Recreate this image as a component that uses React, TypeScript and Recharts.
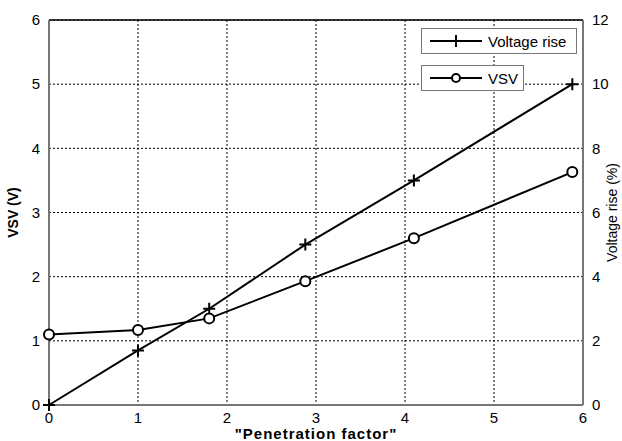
import { ComposedChart, Line, XAxis, YAxis, CartesianGrid, ReferenceLine, Label } from 'recharts';

const penetration = [0, 1, 1.8, 2.88, 4.1, 5.88];
const voltageRise = [0, 1.7, 3.0, 5.0, 7.0, 10.0];
const vsv = [1.1, 1.17, 1.35, 1.93, 2.6, 3.63];
const xTicks = [0, 1, 2, 3, 4, 5, 6];
const leftTicks = [0, 1, 2, 3, 4, 5, 6];
const rightTicks = [0, 2, 4, 6, 8, 10, 12];

const data = penetration.map((p, i) => ({ p, rise: voltageRise[i], vsv: vsv[i] }));

const font = '"Liberation Sans", Arial, sans-serif';

function PlusDot(props: any) {
    const { cx, cy } = props;
    if (cx == null || cy == null) return null;
    return <path d={`M${cx - 6},${cy}h12M${cx},${cy - 6}v12`} stroke="#000" strokeWidth={2} fill="none" />;
}

function CircleDot(props: any) {
    const { cx, cy } = props;
    if (cx == null || cy == null) return null;
    return <circle cx={cx} cy={cy} r={5} stroke="#000" strokeWidth={2} fill="#fff" />;
}

function LegendBoxes() {
    const box = { border: '1px solid #777', background: '#fff', display: 'flex', alignItems: 'center', height: 26, boxSizing: 'border-box' as const, fontFamily: font, fontSize: 15, color: '#000' };
    return (
        <div style={{ position: 'absolute', left: 421, top: 28 }}>
            <div style={{ ...box, width: 156 }}>
                <svg width={58} height={20} style={{ marginLeft: 8 }}>
                    <line x1={0} y1={10} x2={52} y2={10} stroke="#000" strokeWidth={2} />
                    <path d="M26,4v12M20,10h12" stroke="#000" strokeWidth={2} />
                </svg>
                <span>Voltage rise</span>
            </div>
            <div style={{ ...box, width: 103, marginTop: 11 }}>
                <svg width={58} height={20} style={{ marginLeft: 8 }}>
                    <line x1={0} y1={10} x2={52} y2={10} stroke="#000" strokeWidth={2} />
                    <circle cx={26} cy={10} r={4} stroke="#000" strokeWidth={2} fill="#fff" />
                </svg>
                <span>VSV</span>
            </div>
        </div>
    );
}

export default function App() {
    return (
        <div style={{ position: 'absolute', left: 0, top: 0, width: 622, height: 441, background: '#fff' }}>
            <ComposedChart width={622} height={441} data={data} margin={{ top: 20, right: 14, left: 19, bottom: 16 }}>
                <CartesianGrid yAxisId="left" stroke="#000" strokeDasharray="2 2" strokeWidth={1} />
                <XAxis dataKey="p" type="number" domain={[0, 6]} ticks={xTicks} height={20}
                    stroke="#777" strokeWidth={2} tickLine={false} tickMargin={1}
                    tick={{ fill: '#000', fontSize: 15, fontFamily: font }}>
                    <Label value={'"Penetration factor"'} position="bottom" offset={3}
                        style={{ fontWeight: 'bold', fontSize: 15, fontFamily: font, fill: '#000', letterSpacing: 1 }} />
                </XAxis>
                <YAxis yAxisId="left" domain={[0, 6]} ticks={leftTicks} width={30}
                    stroke="#777" strokeWidth={2} tickLine={false} tickMargin={3}
                    tick={{ fill: '#000', fontSize: 15, fontFamily: font }}>
                    <Label value="VSV (V)" angle={-90} position="left" offset={6}
                        style={{ fontWeight: 'bold', fontSize: 14, fontFamily: font, fill: '#000', textAnchor: 'middle' }} />
                </YAxis>
                <YAxis yAxisId="right" orientation="right" domain={[0, 12]} ticks={rightTicks} width={25}
                    stroke="#777" strokeWidth={2} tickLine={false} tickMargin={3}
                    tick={{ fill: '#000', fontSize: 15, fontFamily: font }}>
                    <Label value="Voltage rise (%)" angle={-90} position="right" offset={4}
                        style={{ fontSize: 14, fontFamily: font, fill: '#000', textAnchor: 'middle' }} />
                </YAxis>
                <ReferenceLine yAxisId="left" y={6} stroke="#000" strokeWidth={1.5} />
                <Line yAxisId="right" dataKey="rise" name="Voltage rise" stroke="#000" strokeWidth={2}
                    dot={<PlusDot />} activeDot={false} isAnimationActive={false} />
                <Line yAxisId="left" dataKey="vsv" name="VSV" stroke="#000" strokeWidth={2}
                    dot={<CircleDot />} activeDot={false} isAnimationActive={false} />
            </ComposedChart>
            <LegendBoxes />
        </div>
    );
}
